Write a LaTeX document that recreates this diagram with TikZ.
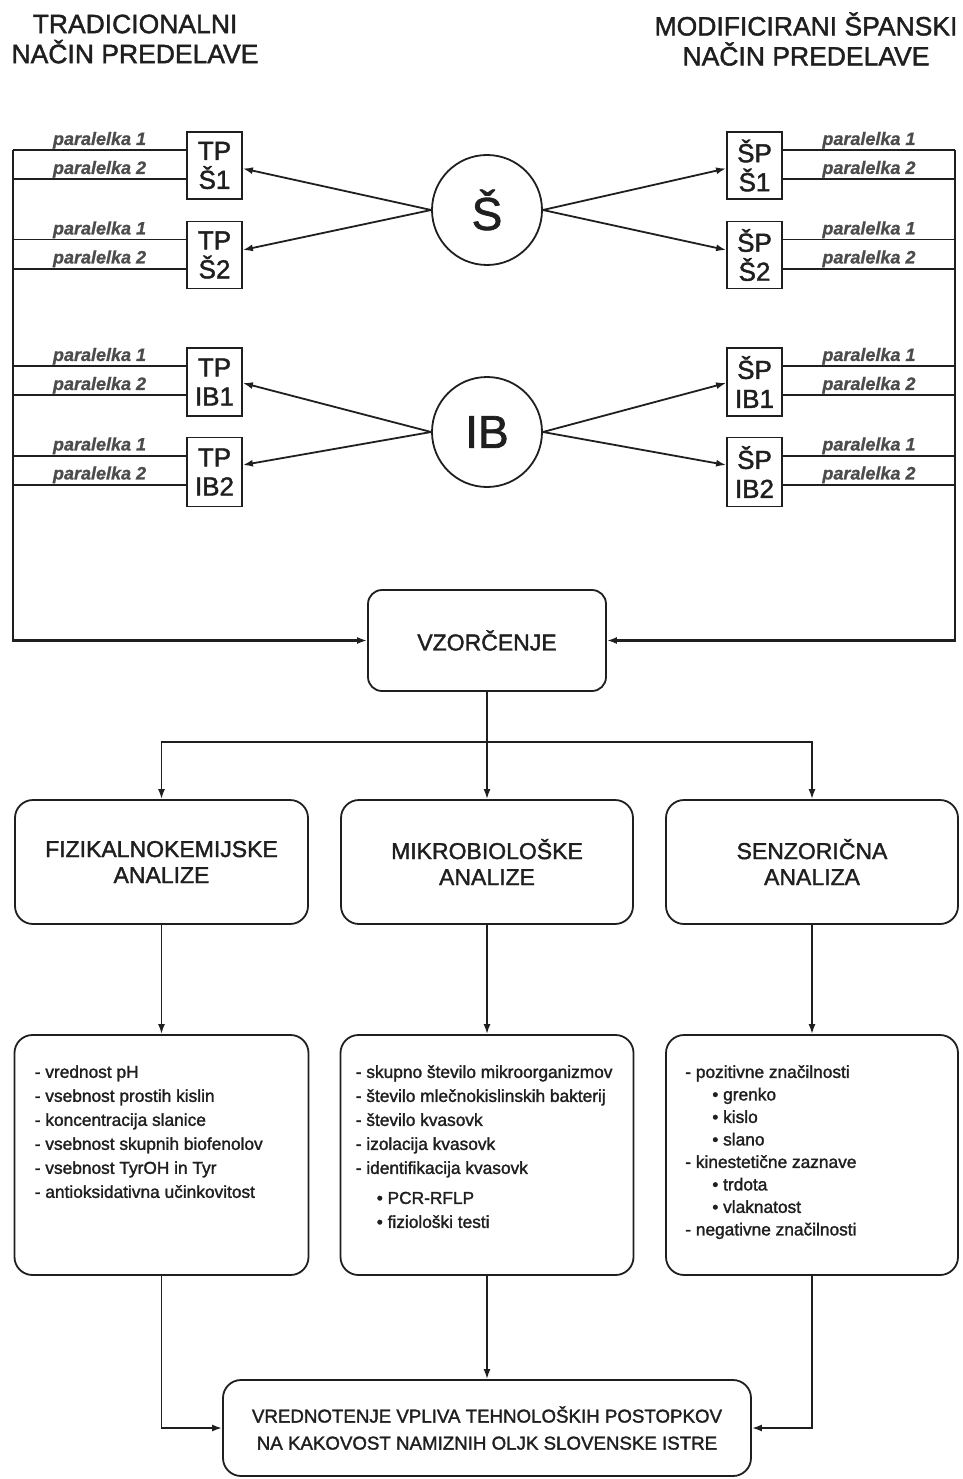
\documentclass[tikz,border=0pt]{standalone}
\usepackage{fontspec}
\setmainfont{Liberation Sans}[FakeBold=1.6]
\newfontfamily\parafont{Liberation Sans}[FakeBold=0.8]
\usetikzlibrary{arrows.meta,calc}
\definecolor{ink}{gray}{0.12}
\definecolor{paragray}{gray}{0.3}
\begin{document}
\begin{tikzpicture}[x=1pt,y=-1pt,
  ln/.style={draw=ink, line width=1.8pt},
  arr/.style={ln, -{Latex[length=10pt,width=7pt]}},
  sbox/.style={draw=ink, line width=1.8pt, rectangle, minimum width=55pt, inner sep=0pt, align=center, font=\fontsize{26}{29}\selectfont, text=ink},
  circ/.style={draw=ink, line width=1.8pt, circle, minimum size=110pt, inner sep=0pt, font=\fontsize{46}{50}\selectfont, text=ink},
  rbox/.style={draw=ink, line width=1.8pt, rounded corners=18pt, rectangle, inner sep=0pt, align=center, text=ink},
  para/.style={anchor=south, inner sep=0.5pt, font=\parafont\fontsize{18}{20}\selectfont\bfseries\itshape, text=paragray},
  head/.style={align=center, inner sep=0pt, font=\fontsize{26.5}{30}\selectfont, text=ink},
  list/.style={anchor=north west, align=left, inner sep=0pt, text=ink}
]
\useasboundingbox (0,0) rectangle (962,1479);
\fill[white] (0,0) rectangle (962,1479);

% headings
\node[head] (hl) at (135,39) {TRADICIONALNI\\NAČIN PREDELAVE};
\node[head] (hr) at (806,39) {MODIFICIRANI ŠPANSKI\\NAČIN PREDELAVE};

% sample boxes
\node[sbox, minimum height=67pt] (tps1) at (214.5,165.5) {TP\\Š1};
\node[sbox, minimum height=67pt] (tps2) at (214.5,255) {TP\\Š2};
\node[sbox, minimum height=68pt] (tpib1) at (214.5,382) {TP\\IB1};
\node[sbox, minimum height=69pt] (tpib2) at (214.5,472) {TP\\IB2};
\node[sbox, minimum height=67pt] (sps1) at (754.5,165.5) {ŠP\\Š1};
\node[sbox, minimum height=67pt] (sps2) at (754.5,255) {ŠP\\Š2};
\node[sbox, minimum height=68pt] (spib1) at (754.5,382) {ŠP\\IB1};
\node[sbox, minimum height=69pt] (spib2) at (754.5,472) {ŠP\\IB2};

% circles
\node[circ] (cs) at (487,210) {Š};
\node[circ] (cib) at (487,432) {IB};

% sampling box
\node[rbox, rounded corners=14pt, minimum width=238pt, minimum height=101pt, font=\fontsize{23}{26}\selectfont] (vz) at (487,640.5) {VZORČENJE};

% rails
\coordinate (lx) at (13,0);
\coordinate (rx) at (955,0);

\foreach \b in {tps1,tps2,tpib1,tpib2}{
  \path (\b.north west) ++(0,19) coordinate (\b-p1) ++(0,29) coordinate (\b-p2);
  \draw[ln] (\b-p1) -- node[para]{paralelka 1} (\b-p1 -| lx);
  \draw[ln] (\b-p2) -- node[para]{paralelka 2} (\b-p2 -| lx);
}
\foreach \b in {sps1,sps2,spib1,spib2}{
  \path (\b.north east) ++(0,19) coordinate (\b-p1) ++(0,29) coordinate (\b-p2);
  \draw[ln] (\b-p1) -- node[para]{paralelka 1} (\b-p1 -| rx);
  \draw[ln] (\b-p2) -- node[para]{paralelka 2} (\b-p2 -| rx);
}
\draw[arr, line width=2.2pt] (tps1-p1 -| lx) -- (vz.west -| lx) -- (vz.west);
\draw[arr, line width=2.2pt] (sps1-p1 -| rx) -- (vz.east -| rx) -- (vz.east);

% circle arrows
\draw[arr] (cs.west) -- ($(tps1.east)+(0,3)$);
\draw[arr] (cs.west) -- ($(tps2.east)+(0,-5)$);
\draw[arr] (cs.east) -- ($(sps1.west)+(0,3)$);
\draw[arr] (cs.east) -- ($(sps2.west)+(0,-5)$);
\draw[arr] (cib.west) -- ($(tpib1.east)+(0,1)$);
\draw[arr] (cib.west) -- ($(tpib2.east)+(0,-7)$);
\draw[arr] (cib.east) -- ($(spib1.west)+(0,1)$);
\draw[arr] (cib.east) -- ($(spib2.west)+(0,-7)$);

% analyses
\node[rbox, minimum width=293pt, minimum height=124pt, font=\fontsize{23}{26}\selectfont] (fiz) at (161.5,862) {FIZIKALNOKEMIJSKE\\ANALIZE};
\node[rbox, minimum width=292pt, minimum height=124pt, font=\fontsize{23}{26}\selectfont] (mik) at (487,862) {MIKROBIOLOŠKE\\ANALIZE};
\node[rbox, minimum width=292pt, minimum height=124pt, font=\fontsize{23}{26}\selectfont] (sen) at (812,862) {SENZORIČNA\\ANALIZA};

\coordinate (jn) at (487,742);
\draw[ln] (vz.south) -- (jn);
\draw[arr] (jn) -| (fiz.north);
\draw[arr] (jn) -- (mik.north);
\draw[arr] (jn) -| (sen.north);

% detail boxes
\node[rbox, minimum width=294pt, minimum height=240pt] (fizd) at (161.5,1155) {};
\node[rbox, minimum width=293pt, minimum height=240pt] (mikd) at (487,1155) {};
\node[rbox, minimum width=292pt, minimum height=240pt] (send) at (812,1155) {};

\draw[arr] (fiz.south) -- (fizd.north);
\draw[arr] (mik.south) -- (mikd.north);
\draw[arr] (sen.south) -- (send.north);

\node[list, font=\fontsize{17.3}{24}\selectfont] (fizt) at ($(fizd.north west)+(21,31)$) {%
- vrednost pH\\
- vsebnost prostih kislin\\
- koncentracija slanice\\
- vsebnost skupnih biofenolov\\
- vsebnost TyrOH in Tyr\\
- antioksidativna učinkovitost};

\node[list, font=\fontsize{17.3}{24}\selectfont] (mikt) at ($(mikd.north west)+(16,31)$) {%
- skupno število mikroorganizmov\\
- število mlečnokislinskih bakterij\\
- število kvasovk\\
- izolacija kvasovk\\
- identifikacija kvasovk\\[6pt]
\hspace*{21pt}• PCR-RFLP\\
\hspace*{21pt}• fiziološki testi};

\node[list, font=\fontsize{17.3}{22.5}\selectfont] (sent) at ($(send.north west)+(20,31)$) {%
- pozitivne značilnosti\\
\hspace*{27pt}• grenko\\
\hspace*{27pt}• kislo\\
\hspace*{27pt}• slano\\
- kinestetične zaznave\\
\hspace*{27pt}• trdota\\
\hspace*{27pt}• vlaknatost\\
- negativne značilnosti};

% final box
\node[rbox, minimum width=528pt, minimum height=96pt, font=\fontsize{18.7}{27}\selectfont] (fin) at (487,1428) {VREDNOTENJE VPLIVA TEHNOLOŠKIH POSTOPKOV\\NA KAKOVOST NAMIZNIH OLJK SLOVENSKE ISTRE};

\draw[arr] (fizd.south) |- (fin.west);
\draw[arr] (mikd.south) -- (fin.north);
\draw[arr] (send.south) |- (fin.east);
\end{tikzpicture}
\end{document}
